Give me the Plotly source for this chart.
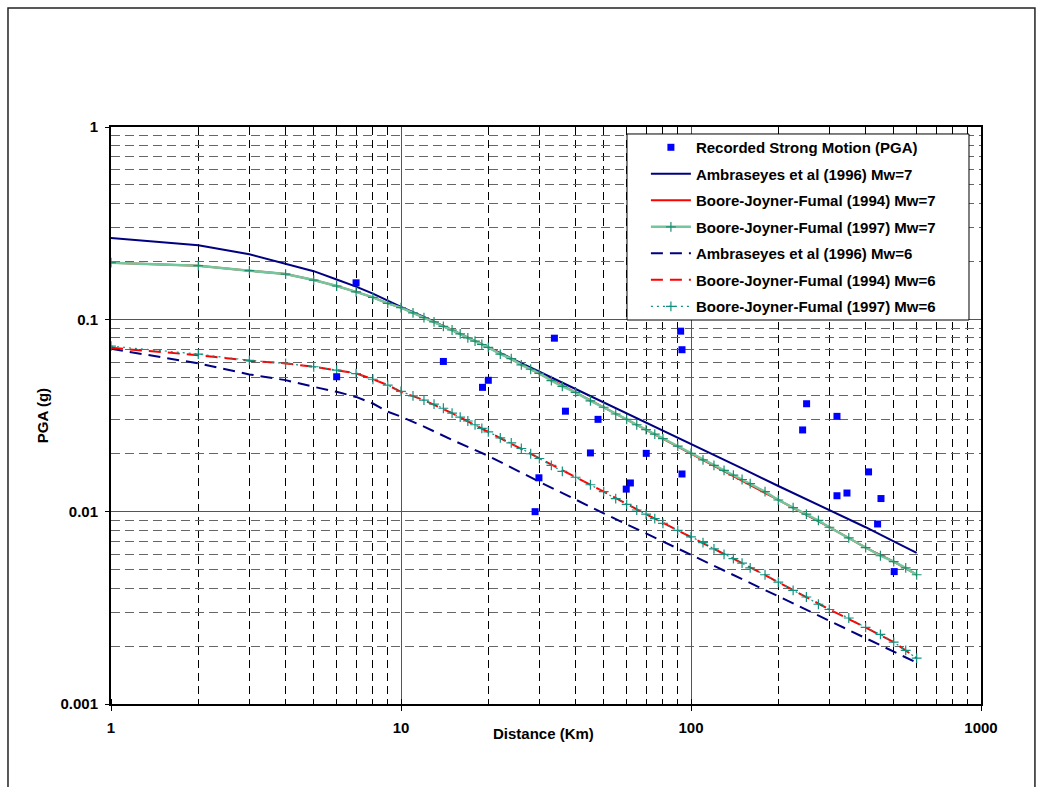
import plotly.graph_objects as go

# ---------------- data ----------------
rec_dist = [6.0, 7.0, 14.0, 19.1, 20.0, 29.0, 29.9, 33.8, 36.9, 45.0, 47.8, 59.8, 61.8,
            70.1, 92.1, 93.1, 93.1, 242.6, 250.4, 318.7, 318.7, 345.0, 409.5, 440.0,
            452.0, 502.0]
rec_pga = [0.0503, 0.1548, 0.0604, 0.0443, 0.0482, 0.0100, 0.0150, 0.0798, 0.0333, 0.0202,
           0.0302, 0.0131, 0.0141, 0.0201, 0.0868, 0.0695, 0.0157, 0.0266, 0.0364, 0.0313,
           0.0121, 0.0125, 0.0161, 0.00863, 0.0117, 0.00488]

amb7_dist = [1, 2, 3, 4, 5, 6, 7, 8, 9, 10, 12, 15, 20, 30, 50, 70, 100, 150, 200, 300,
             400, 500, 600]
amb7_pga = [0.265, 0.243, 0.218, 0.195, 0.178, 0.161, 0.148, 0.136, 0.125, 0.116, 0.103,
            0.088, 0.0715, 0.0534, 0.037, 0.0292, 0.0225, 0.0168, 0.0136, 0.0102, 0.0083,
            0.0070, 0.0061]

bjf94_7_dist = [1, 2, 3, 4, 5, 6, 7, 8, 9, 10, 12, 15, 20, 25, 30, 40, 50, 70, 100, 150,
                200, 300, 400, 500, 600]
bjf94_7_pga = [0.197, 0.190, 0.179, 0.172, 0.160, 0.149, 0.139, 0.130, 0.121, 0.115,
               0.102, 0.088, 0.0715, 0.0602, 0.0524, 0.0417, 0.0349, 0.0267, 0.0201,
               0.0145, 0.0115, 0.0083, 0.0065, 0.0055, 0.0047]

bjf97_dist = [1, 2, 3, 4, 5, 6, 7, 8, 9, 10, 11, 12, 13, 14, 15, 16, 17, 18, 19, 20, 22,
              24, 26, 28, 30, 33, 36, 40, 45, 50, 55, 60, 65, 70, 75, 80, 90, 100, 110,
              120, 130, 140, 150, 160, 180, 200, 225, 250, 275, 300, 350, 400, 450, 500,
              550, 600]
bjf97_7_pga = [0.197, 0.190, 0.179, 0.172, 0.160, 0.149, 0.139, 0.130, 0.121, 0.115,
               0.108, 0.102, 0.097, 0.092, 0.088, 0.084, 0.080, 0.077, 0.074, 0.0715,
               0.066, 0.0625, 0.058, 0.055, 0.0524, 0.048, 0.0448, 0.0417, 0.0377, 0.0349,
               0.0322, 0.0302, 0.0283, 0.0267, 0.0253, 0.0240, 0.0219, 0.0201, 0.0186,
               0.0174, 0.0164, 0.0155, 0.0147, 0.0140, 0.0127, 0.0115, 0.0105, 0.0097,
               0.0090, 0.0083, 0.0073, 0.0065, 0.0059, 0.0055, 0.0051, 0.0047]

amb6_dist = [1, 2, 3, 4, 5, 6, 7, 8, 9, 10, 12, 15, 20, 25, 30, 50, 70, 100, 150, 200,
             300, 400, 500, 600]
amb6_pga = [0.0703, 0.059, 0.0517, 0.0483, 0.0446, 0.0420, 0.0395, 0.0365, 0.0331, 0.0312,
            0.0277, 0.0236, 0.0195, 0.0164, 0.0143, 0.0098, 0.0077, 0.0060, 0.0045,
            0.00363, 0.00271, 0.0022, 0.00187, 0.00164]

bjf94_6_dist = [1, 2, 3, 4, 5, 6, 7, 8, 9, 10, 12, 15, 20, 25, 30, 40, 50, 70, 100, 150,
                200, 300, 400, 500, 600]
bjf94_6_pga = [0.0711, 0.0651, 0.0609, 0.059, 0.0567, 0.0545, 0.0524, 0.0488, 0.0455,
               0.0420, 0.0380, 0.0325, 0.0260, 0.0219, 0.0189, 0.0151, 0.0127, 0.0097,
               0.0074, 0.0054, 0.0043, 0.0031, 0.0025, 0.0021, 0.00173]

bjf97_6_pga = [0.0725, 0.066, 0.0612, 0.059, 0.0567, 0.0545, 0.0522, 0.0488, 0.0455,
               0.0422, 0.0400, 0.0380, 0.0362, 0.0345, 0.0325, 0.0310, 0.0296, 0.0283,
               0.0271, 0.0260, 0.0242, 0.0228, 0.0213, 0.0200, 0.0189, 0.0174, 0.0162,
               0.0151, 0.0138, 0.0127, 0.0117, 0.0109, 0.0102, 0.0097, 0.0092, 0.0087,
               0.0080, 0.0074, 0.0069, 0.0064, 0.0060, 0.0057, 0.0054, 0.0051, 0.0047,
               0.0043, 0.0039, 0.0036, 0.0033, 0.0031, 0.0028, 0.0025, 0.0023, 0.0021,
               0.0019, 0.00173]

names = ["Recorded Strong Motion (PGA)",
         "Ambraseyes et al (1996) Mw=7",
         "Boore-Joyner-Fumal (1994) Mw=7",
         "Boore-Joyner-Fumal (1997) Mw=7",
         "Ambraseyes et al (1996) Mw=6",
         "Boore-Joyner-Fumal (1994) Mw=6",
         "Boore-Joyner-Fumal (1997) Mw=6"]

x_title = "Distance (Km)"
y_title = "PGA (g)"

# ---------------- figure ----------------
FONT = "Arial, Liberation Sans, sans-serif"
fig = go.Figure()

fig.add_trace(go.Scatter(x=amb7_dist, y=amb7_pga, mode="lines", name=names[1],
                         line=dict(color="#000080", width=2), legendrank=2, legendgroup="g2"))
fig.add_trace(go.Scatter(x=bjf94_7_dist, y=bjf94_7_pga, mode="lines", name=names[2],
                         line=dict(color="#ff0000", width=2), legendrank=3, legendgroup="g3"))
fig.add_trace(go.Scatter(x=bjf97_dist, y=bjf97_7_pga, mode="lines+markers", name=names[3],
                         line=dict(color="#74c69d", width=2.5),
                         marker=dict(symbol="cross-thin", size=7,
                                     line=dict(color="#1a8f6e", width=1.2), color="#1a8f6e"),
                         legendrank=4, legendgroup="g4"))
fig.add_trace(go.Scatter(x=amb6_dist, y=amb6_pga, mode="lines", name=names[4],
                         line=dict(color="#000080", width=2, dash="12px,7px"),
                         legendrank=5, legendgroup="g5"))
fig.add_trace(go.Scatter(x=bjf94_6_dist, y=bjf94_6_pga, mode="lines", name=names[5],
                         line=dict(color="#ff0000", width=2, dash="12px,7px"),
                         legendrank=6, legendgroup="g6"))
fig.add_trace(go.Scatter(x=bjf97_dist, y=bjf97_6_pga, mode="lines+markers", name=names[6],
                         line=dict(color="#13917f", width=1.2, dash="2px,4px"),
                         marker=dict(symbol="cross-thin", size=7,
                                     line=dict(color="#13917f", width=1.2), color="#13917f"),
                         legendrank=7, legendgroup="g7"))
fig.add_trace(go.Scatter(x=rec_dist, y=rec_pga, mode="markers", name=names[0],
                         marker=dict(symbol="square", size=7, color="#0000ff"),
                         legendrank=1, legendgroup="g1"))

axis_font = dict(family=FONT, size=15, color="black", weight="bold")

fig.update_xaxes(type="log", range=[0, 3], tick0=0, dtick=1,
                 showgrid=True, gridcolor="#555555", gridwidth=1,
                 showline=True, linecolor="black", linewidth=2, mirror=True,
                 ticks="outside", ticklen=5, tickcolor="black", tickwidth=1,
                 tickfont=axis_font, zeroline=False, ticklabelstandoff=4,
                 minor=dict(dtick="D1", showgrid=True, gridcolor="black", gridwidth=1,
                            griddash="8px,5px", ticks="inside", ticklen=5, tickcolor="black"))
fig.update_yaxes(type="log", range=[-3, 0], tick0=0, dtick=1,
                 showgrid=True, gridcolor="#555555", gridwidth=1,
                 showline=True, linecolor="black", linewidth=2, mirror=True,
                 ticks="outside", ticklen=4, tickcolor="black", tickwidth=1,
                 tickfont=axis_font, zeroline=False, ticklabelstandoff=4,
                 minor=dict(dtick="D1", showgrid=True, gridcolor="#666666", gridwidth=1,
                            griddash="9px,5px"))

fig.update_layout(
    width=1043, height=787,
    margin=dict(l=111, r=62, t=127, b=83),
    paper_bgcolor="white", plot_bgcolor="white",
    font=dict(family=FONT, size=15, color="black"),
    showlegend=True,
    legend=dict(x=0.593, y=0.993, xanchor="left", yanchor="top",
                bgcolor="rgba(0,0,0,0)", borderwidth=0,
                font=dict(family=FONT, size=15, color="black", weight="bold"),
                tracegroupgap=4, itemwidth=40, indentation=19,
                traceorder="grouped"),
    annotations=[
        dict(text=x_title, xref="paper", yref="paper", x=0.4966, y=-0.0503,
             xanchor="center", yanchor="middle", showarrow=False, font=axis_font),
        dict(text=y_title, xref="paper", yref="paper", x=-0.0785, y=0.5,
             xanchor="center", yanchor="middle", showarrow=False, textangle=-90,
             font=axis_font),
    ],
    shapes=[
        # outer chart frame
        dict(type="rect", xref="paper", yref="paper",
             x0=-0.1184, x1=1.062, y0=-0.2, y1=1.2062,
             line=dict(color="#222222", width=1.5), fillcolor="rgba(0,0,0,0)",
             layer="below"),
        # legend box
        dict(type="rect", xref="paper", yref="paper",
             x0=0.5931, x1=0.9862, y0=0.6655, y1=0.9879,
             line=dict(color="black", width=1), fillcolor="white", layer="above"),
    ],
)

fig.write_html("out.html")
